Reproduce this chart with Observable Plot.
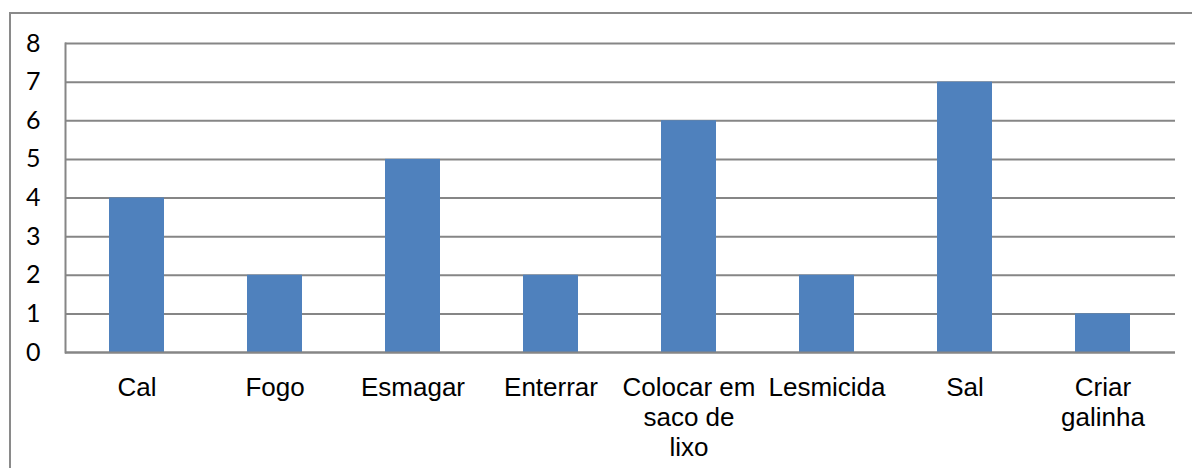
<!DOCTYPE html>
<html>
<head>
<meta charset="utf-8">
<script src="https://cdn.jsdelivr.net/npm/d3@7"></script>
<script src="https://cdn.jsdelivr.net/npm/@observablehq/plot@0.6"></script>
<style>
  body { margin: 0; background: #fff; }
  #wrap { position: relative; width: 1192px; height: 468px; overflow: hidden; }
  #border {
    position: absolute; left: 9px; top: 12px; width: 1220px; height: 520px;
    border-left: 2px solid #8a8a8a; border-top: 2px solid #8a8a8a;
    pointer-events: none;
  }
</style>
</head>
<body>
<div id="wrap"><div id="border"></div></div>
<script>
// Methods named and how many times each was mentioned
const categories = ["Cal", "Fogo", "Esmagar", "Enterrar", "Colocar em\nsaco de\nlixo", "Lesmicida", "Sal", "Criar\ngalinha"];
const counts = [4, 2, 5, 2, 6, 2, 7, 1];
const yTicks = [0, 1, 2, 3, 4, 5, 6, 7, 8];

const data = categories.map((c, i) => ({ category: c, value: counts[i] }));

const chart = Plot.plot({
  width: 1192,
  height: 468,
  marginLeft: 65,
  marginRight: 17,
  marginTop: 43,
  marginBottom: 116,
  style: { background: "transparent", color: "#000" },
  // equal slots per category, bar centred in each slot
  x: { domain: categories, paddingInner: 0.6, paddingOuter: 0.3, label: null },
  y: { domain: [0, 8], label: null },
  marks: [
    Plot.ruleY(yTicks, { stroke: "#868686", strokeWidth: 2 }),
    Plot.barY(data, { x: "category", y: "value", fill: "#4F81BD" }),
    Plot.ruleY([0], { stroke: "#868686", strokeWidth: 2 }),
    Plot.frame({ anchor: "left", stroke: "#868686", strokeWidth: 2 }),
    Plot.axisY(yTicks, {
      tickSize: 0, tickPadding: 25, fontSize: 25, fontFamily: "Lato", fill: "#000"
    }),
    Plot.axisX({
      tickSize: 0, tickPadding: 22, fontSize: 26, lineHeight: 1.15,
      fontFamily: "Liberation Sans", fill: "#000"
    })
  ]
});

document.getElementById("wrap").insertBefore(chart, document.getElementById("border"));
</script>
</body>
</html>
